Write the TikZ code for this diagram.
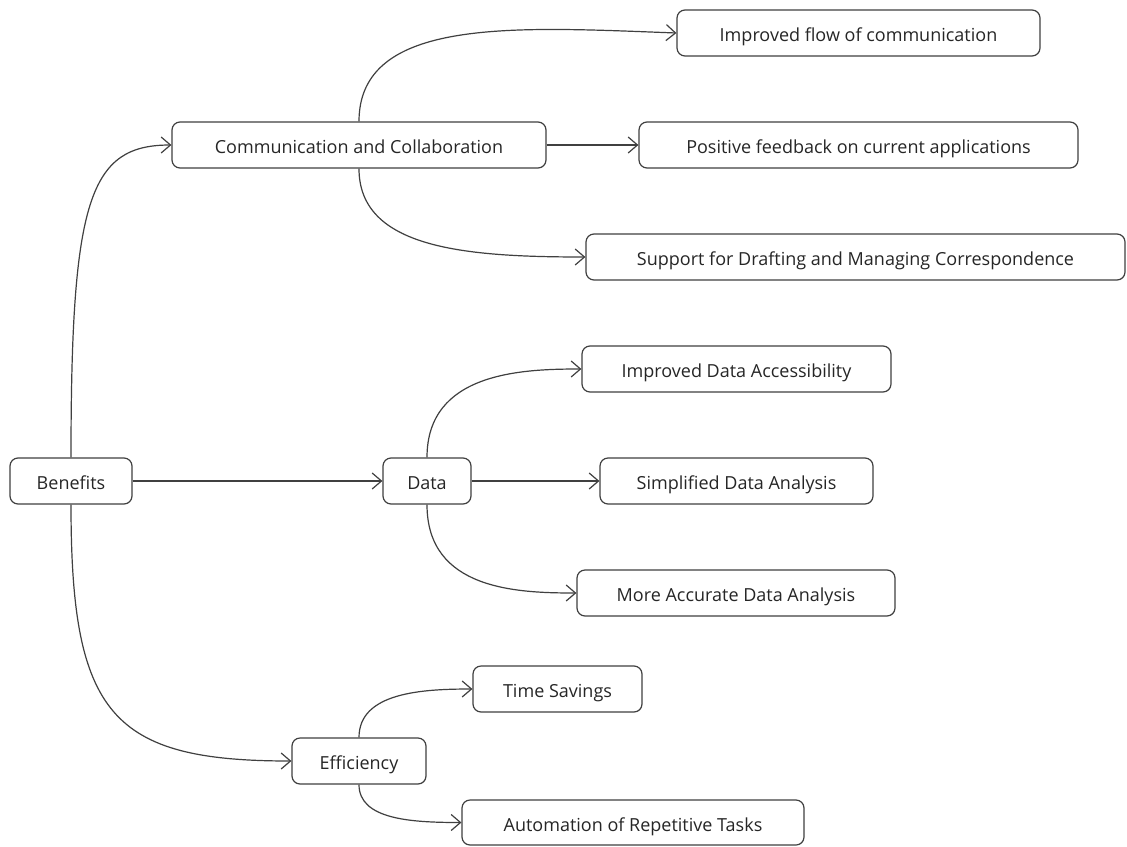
\documentclass[tikz,border=0pt]{standalone}
\usepackage{fontspec}
\setmainfont{Open Sans}
\usetikzlibrary{arrows.meta}
\definecolor{linec}{HTML}{404040}
\definecolor{textc}{HTML}{262626}
\begin{document}
\begin{tikzpicture}[x=0.75pt,y=-0.75pt,
  box/.style={draw=linec, line width=0.9pt, rounded corners=6pt, inner sep=0pt,
    minimum height=34.5pt, text=textc, font=\fontsize{13.5}{16}\selectfont, align=center,
    text height=13.2pt, text depth=0pt},
  conn/.style={draw=linec, line width=0.9pt, -{Straight Barb[length=7pt,width=12pt,line width=0.9pt]}}]
\useasboundingbox (0,0) rectangle (1127,846);
\fill[white] (0,0) rectangle (1127,846);

\node[box, minimum width=91.5pt]  (ben)  at (71,481)    {Benefits};
\node[box, minimum width=280.5pt] (comm) at (359,145)   {Communication and Collaboration};
\node[box, minimum width=272.25pt](flow) at (858.5,33)  {Improved flow of communication};
\node[box, minimum width=329.25pt](pos)  at (858.5,145) {Positive feedback on current applications};
\node[box, minimum width=404.25pt](sup)  at (855.5,257) {Support for Drafting and Managing Correspondence};
\node[box, minimum width=231.75pt](acc)  at (736.5,369) {Improved Data Accessibility};
\node[box, minimum width=66pt]    (data) at (427,481)   {Data};
\node[box, minimum width=204.75pt](simp) at (736.5,481) {Simplified Data Analysis};
\node[box, minimum width=238.5pt] (more) at (736,593)   {More Accurate Data Analysis};
\node[box, minimum width=100.5pt] (eff)  at (359,761)   {Efficiency};
\node[box, minimum width=126.75pt](time) at (557.5,689) {Time Savings};
\node[box, minimum width=256.5pt, minimum height=33.75pt] (auto) at (633,822.5) {Automation of Repetitive Tasks};

\draw[conn] (ben.north) .. controls +(0,-258) and +(-82,0) .. (comm.west);
\draw[conn] (ben.east) -- (data.west);
\draw[conn] (ben.south) .. controls +(0,210) and +(-180,0) .. (eff.west);

\draw[conn] (comm.north) .. controls +(0,-105) and +(-160,-6) .. (flow.west);
\draw[conn] (comm.east) -- (pos.west);
\draw[conn] (comm.south) .. controls +(0,80) and +(-120,0) .. (sup.west);

\draw[conn] (data.north) .. controls +(0,-85) and +(-60,0) .. (acc.west);
\draw[conn] (data.east) -- (simp.west);
\draw[conn] (data.south) .. controls +(0,85) and +(-60,0) .. (more.west);

\draw[conn] (eff.north) .. controls +(0,-45) and +(-50,0) .. (time.west);
\draw[conn] (eff.south) .. controls +(0,35) and +(-50,0) .. (auto.west);
\end{tikzpicture}
\end{document}
